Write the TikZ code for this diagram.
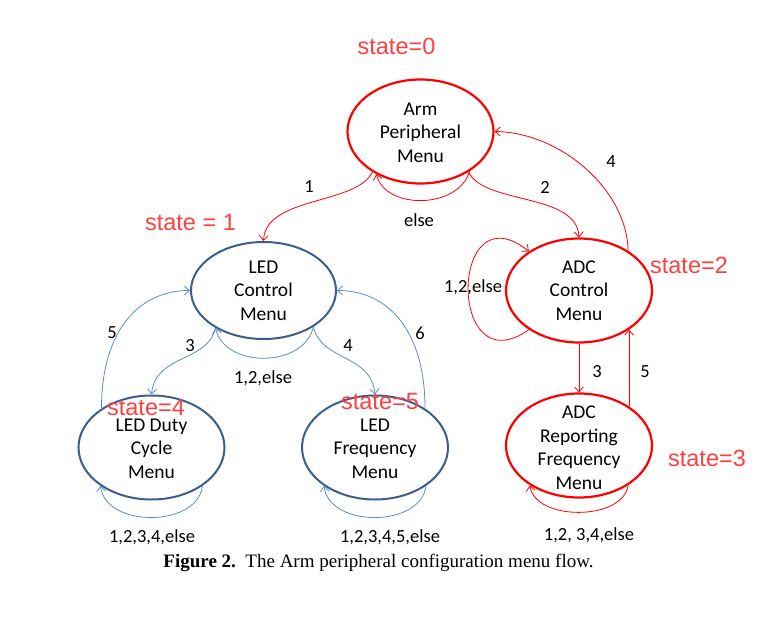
\documentclass[tikz,border=0pt]{standalone}
\usepackage{fontspec}
\setmainfont{Carlito}
\newfontfamily\statefont{Liberation Sans}
\newfontfamily\capfont{Liberation Serif}
\usetikzlibrary{arrows.meta,shapes.geometric}
\definecolor{redln}{RGB}{255,0,0}
\definecolor{statered}{RGB}{255,64,64}
\definecolor{blueell}{RGB}{59,94,140}
\definecolor{blueln}{RGB}{91,139,206}
\tikzset{
  ell/.style={ellipse, draw, inner sep=0pt, minimum width=146pt, minimum height=104pt},
  redell/.style={ell, draw=redln, line width=2.2pt},
  blueell/.style={ell, draw=blueell, line width=2pt},
  txt/.style={align=center, font=\fontsize{19.5}{23.5}\selectfont, inner sep=0pt},
  lbl/.style={font=\fontsize{18.5}{22}\selectfont, inner sep=0pt},
  statelbl/.style={text=statered, font=\statefont\fontsize{23.5}{26}\selectfont, inner sep=0pt},
  redarr/.style={draw=redln, line width=0.8pt, -{Straight Barb[length=5pt,width=9pt]}},
  bluearr/.style={draw=blueln, line width=0.8pt, -{Straight Barb[length=5pt,width=9pt]}},
}
\begin{document}
\begin{tikzpicture}[x=1pt,y=-1pt]
\useasboundingbox (0,0) rectangle (764,635);
% ellipses
\node[redell] (arm) at (420.5,131.5) {};
\node[blueell, minimum width=145pt, minimum height=97pt] (ledc) at (263.5,290.5) {};
\node[redell] (adcc) at (579,290.5) {};
\node[redell] (adcr) at (579,445.5) {};
\node[blueell] (ledd) at (151.5,447.5) {};
\node[blueell] (ledf) at (375,447.5) {};
% texts in ellipses
\node[txt] (armt) at (420.5,132.5) {Arm\\Peripheral\\Menu};
\node[txt] (ledct) at (263.5,290.5) {LED\\Control\\Menu};
\node[txt] (adcct) at (579,290.5) {ADC\\Control\\Menu};
\node[txt] (adcrt) at (579,447.5) {ADC\\Reporting\\Frequency\\Menu};
\node[txt] (leddt) at (151.5,448.5) {LED Duty\\Cycle\\Menu};
\node[txt] (ledft) at (375,448.5) {LED\\Frequency\\Menu};
% red connectors
\draw[redarr] (arm.-140) .. controls +(-15,33) and +(2,-45) .. (ledc.north);
\draw[redarr] (arm.-39) .. controls +(-11,38) and +(9,36) .. (arm.-136);
\draw[redarr] (arm.-40) .. controls +(15,33) and +(-2,-45) .. (adcc.north);
\draw[redarr] (adcc.39) .. controls +(-1,-60) and +(67,1) .. (arm.east);
\draw[redarr] (adcc.-142) .. controls +(-82,58) and +(-80,-64) .. (adcc.142);
\draw[redarr] (adcc.south) -- (adcr.north);
\draw[redarr] (adcr.38) -- (adcc.-38);
\draw[redarr] (adcr.-39) .. controls +(-5,36) and +(5,36) .. (adcr.-141);
% blue connectors
\draw[bluearr] (ledd.142) .. controls +(0,-78) and +(-51,0) .. (ledc.west);
\draw[bluearr] (ledf.38) .. controls +(0,-78) and +(51,0) .. (ledc.east);
\draw[bluearr] (ledc.-142) .. controls +(-8,35) and +(4,-41) .. (ledd.north);
\draw[bluearr] (ledc.-36) .. controls +(8,35) and +(-4,-41) .. (ledf.north);
\draw[bluearr] (ledc.-36) .. controls +(-10,42) and +(9,40) .. (ledc.-142);
\draw[bluearr] (ledd.-37) .. controls +(-5,42) and +(5,42) .. (ledd.-143);
\draw[bluearr] (ledf.-37) .. controls +(-5,42) and +(5,42) .. (ledf.-143);
% connector labels
\node[lbl] (l1) at (309,187) {1};
\node[lbl] (l2) at (545,187) {2};
\node[lbl] (lelse) at (419,220) {else};
\node[lbl] (l4) at (611,162) {4};
\node[lbl] (ladc) at (473,287) {1,2,else};
\node[lbl] (l3a) at (597,372) {3};
\node[lbl] (l5a) at (645,372) {5};
\node[lbl] (l5b) at (112,333) {5};
\node[lbl] (l3b) at (190,346) {3};
\node[lbl] (l4b) at (348,346) {4};
\node[lbl] (l6b) at (420,333) {6};
\node[lbl] (lled) at (263,378) {1,2,else};
\node[lbl] (lduty) at (152,537) {1,2,3,4,else};
\node[lbl] (lfreq) at (390,537) {1,2,3,4,5,else};
\node[lbl] (lrep) at (589,535) {1,2, 3,4,else};
% state labels
\node[statelbl] (s0) at (396.5,46) {state=0};
\node[statelbl] (s1) at (190.5,223) {state = 1};
\node[statelbl] (s2) at (689,265) {state=2};
\node[statelbl] (s3) at (707,458) {state=3};
\node[statelbl] (s4) at (146,408) {state=4};
\node[statelbl] (s5) at (380,402) {state=5};
% caption
\node[inner sep=0pt, font=\capfont\fontsize{19}{23}\selectfont] (cap) at (378.5,563) {\textbf{Figure 2.}\ \ The Arm peripheral configuration menu flow.};
\end{tikzpicture}
\end{document}
